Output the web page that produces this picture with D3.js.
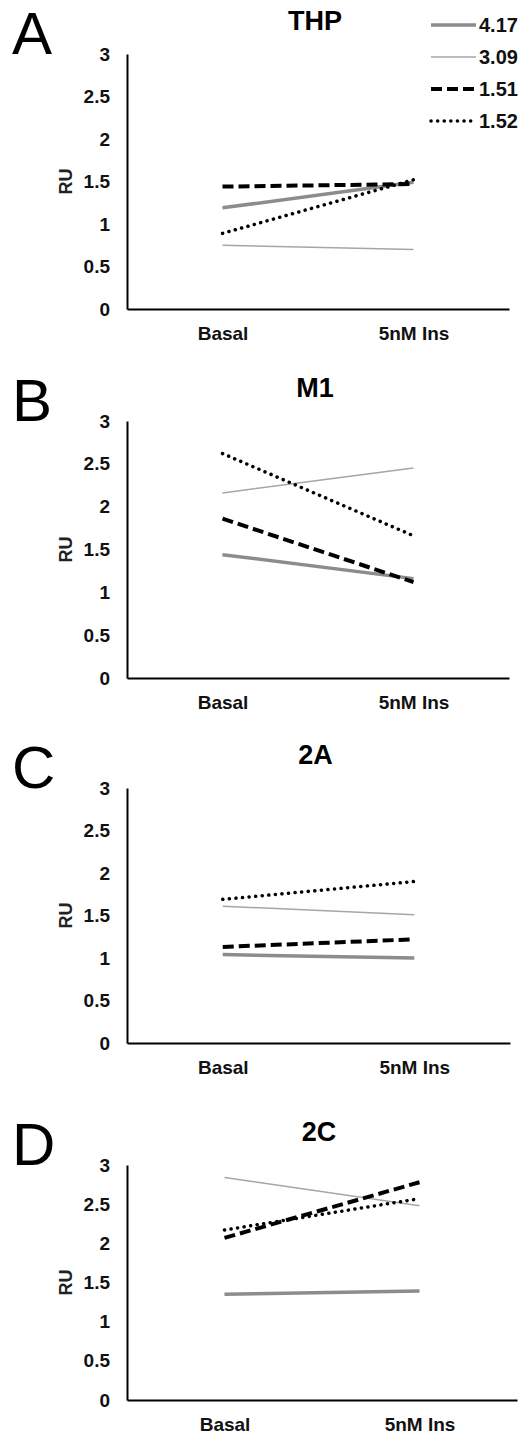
<!DOCTYPE html>
<html>
<head>
<meta charset="utf-8">
<script src="https://cdn.jsdelivr.net/npm/d3@7"></script>
<style>
  body { margin: 0; background: #fff; }
  text { font-family: "Liberation Sans", Arial, sans-serif; }
</style>
</head>
<body>
<script>
var w = 524;
var h = 1435;

// data
var categories = ["Basal", "5nM Ins"];
var seriesNames = ["4.17", "3.09", "1.51", "1.52"];
var panelLetters = ["A", "B", "C", "D"];
var panelTitles = ["THP", "M1", "2A", "2C"];
var yTicks = [0, 0.5, 1, 1.5, 2, 2.5, 3];

// values per panel, one [Basal, 5nM Ins] pair per series
var thpValues = [[1.19, 1.49], [0.75, 0.70], [1.44, 1.47], [0.89, 1.52]];
var m1Values  = [[1.44, 1.16], [2.16, 2.45], [1.86, 1.12], [2.62, 1.66]];
var a2Values  = [[1.04, 1.00], [1.61, 1.51], [1.13, 1.22], [1.69, 1.90]];
var c2Values  = [[1.35, 1.39], [2.84, 2.48], [2.07, 2.78], [2.17, 2.57]];
var panelValues = [thpValues, m1Values, a2Values, c2Values];

// layout of each panel: y of value 3, y of value 0, right end of x axis
var layout = [
    {top: 54,   bottom: 309,  right: 509},
    {top: 421,  bottom: 678,  right: 509},
    {top: 788,  bottom: 1043, right: 510},
    {top: 1165, bottom: 1400, right: 517}
];
var left = 127;

// line styles per series
var styles = [
    {stroke: "#8c8c8c", width: 3.5, dash: null, cap: "butt"},
    {stroke: "#a6a6a6", width: 1.5, dash: null, cap: "butt"},
    {stroke: "#000",    width: 4,   dash: "11 5", cap: "butt"},
    {stroke: "#000",    width: 3.5, dash: "0.1 6.5", cap: "round"}
];

var svg = d3.select("body")
    .append("svg")
    .attr("width", w)
    .attr("height", h);

panelValues.forEach(function(vals, p) {
    var L = layout[p];
    var x = d3.scalePoint().domain(categories).range([left, L.right]).padding(0.5);
    var y = d3.scaleLinear().domain([0, 3]).range([L.bottom, L.top]);
    var g = svg.append("g");

    // panel letter
    g.append("text")
        .attr("x", 12)
        .attr("y", L.top)
        .attr("font-size", 60)
        .text(panelLetters[p]);

    // title
    g.append("text")
        .attr("x", (x(categories[0]) + x(categories[1])) / 2 - 3)
        .attr("y", L.top - 24)
        .attr("text-anchor", "middle")
        .attr("font-size", 27)
        .attr("font-weight", "bold")
        .text(panelTitles[p]);

    // y axis
    var yAxis = g.append("g")
        .attr("transform", "translate(" + left + ",0)")
        .call(d3.axisLeft(y).tickValues(yTicks).tickSize(0).tickPadding(17)
            .tickFormat(function(d) { return String(d); }));
    yAxis.select(".domain").attr("stroke", "#000").attr("stroke-width", 2);
    yAxis.selectAll("text")
        .attr("font-size", 19)
        .attr("font-weight", "bold")
        .attr("fill", "#111")
        .style("font-family", "'Liberation Sans', Arial, sans-serif");

    // x axis
    var xAxis = g.append("g")
        .attr("transform", "translate(0," + L.bottom + ")")
        .call(d3.axisBottom(x).tickSize(0).tickPadding(18));
    xAxis.select(".domain").attr("stroke", "#000").attr("stroke-width", 2);
    xAxis.selectAll("text")
        .attr("font-size", 19)
        .attr("font-weight", "bold")
        .attr("fill", "#111")
        .style("font-family", "'Liberation Sans', Arial, sans-serif");

    // y label
    g.append("text")
        .attr("transform", "translate(72," + y(1.5) + ") rotate(-90)")
        .attr("text-anchor", "middle")
        .attr("font-size", 18)
        .attr("font-weight", "bold")
        .attr("fill", "#222")
        .text("RU");

    // series lines
    var line = d3.line()
        .x(function(d, i) { return x(categories[i]); })
        .y(function(d) { return y(d); });

    g.selectAll("path.series")
        .data(vals)
        .enter()
        .append("path")
        .attr("class", "series")
        .attr("d", line)
        .attr("fill", "none")
        .attr("stroke", function(d, i) { return styles[i].stroke; })
        .attr("stroke-width", function(d, i) { return styles[i].width; })
        .attr("stroke-dasharray", function(d, i) { return styles[i].dash; })
        .attr("stroke-linecap", function(d, i) { return styles[i].cap; });

    // legend only on first panel
    if (p === 0) {
        var leg = g.selectAll("g.leg")
            .data(seriesNames)
            .enter()
            .append("g")
            .attr("class", "leg")
            .attr("transform", function(d, i) { return "translate(0," + (25 + i * 32) + ")"; });
        leg.append("line")
            .attr("x1", 431).attr("x2", 476)
            .attr("stroke", function(d, i) { return styles[i].stroke; })
            .attr("stroke-width", function(d, i) { return styles[i].width; })
            .attr("stroke-dasharray", function(d, i) { return styles[i].dash; })
            .attr("stroke-linecap", function(d, i) { return styles[i].cap; });
        leg.append("text")
            .attr("x", 479)
            .attr("dy", "0.36em")
            .attr("font-size", 20)
            .attr("font-weight", "bold")
            .attr("fill", "#111")
            .text(function(d) { return d; });
    }
});
</script>
</body>
</html>
